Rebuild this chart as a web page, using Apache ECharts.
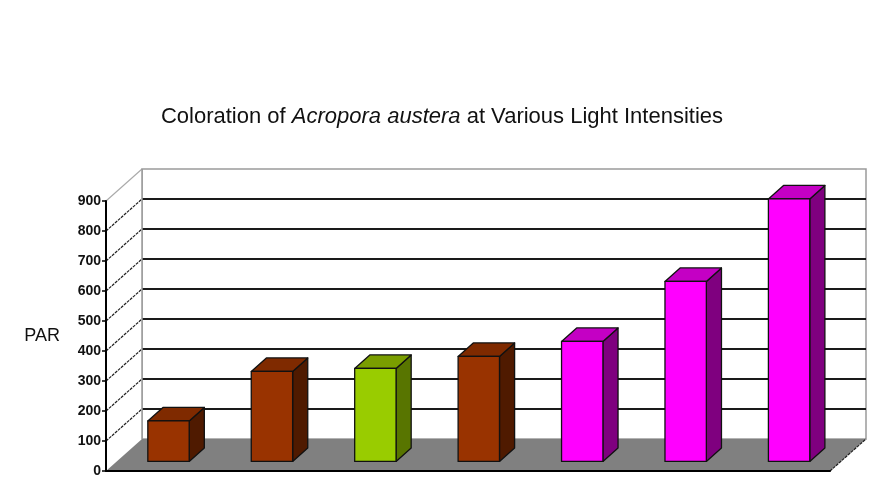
<!DOCTYPE html>
<html><head><meta charset="utf-8">
<script src="https://cdn.jsdelivr.net/npm/echarts@6/dist/echarts.min.js"></script>
<style>html,body{margin:0;padding:0;background:#fff}#c{width:884px;height:499px}</style>
</head><body><div id="c"></div>
<script>
// ---- data ----
const categories = ['1', '2', '3', '4', '5', '6', '7'];
const parValues = [135, 300, 310, 350, 400, 600, 875];
const coloration = ['brown', 'brown', 'green', 'brown', 'pink', 'pink', 'pink'];
const yTickValues = [0, 100, 200, 300, 400, 500, 600, 700, 800, 900];
const titleParts = ['Coloration of ', 'Acropora austera', ' at Various Light Intensities'];
const yAxisName = 'PAR';

// ---- styles ----
const palette = {
  brown: { front: '#993300', top: '#7f2a00', side: '#4f1a00' },
  green: { front: '#99cc00', top: '#7a9e00', side: '#587500' },
  pink:  { front: '#ff00ff', top: '#c400c4', side: '#7f007f' }
};
const DX = 36, DY = -32;   // full depth offset of the 3D box
const F0 = 0.3, BD = 0.42; // bar front plane depth fraction, bar depth fraction
const yMax = yTickValues[yTickValues.length - 1];

const chart = echarts.init(document.getElementById('c'), null, { renderer: 'canvas' });

function renderFrame(params, api) {
  const cs = params.coordSys;
  const x0 = cs.x, x1 = cs.x + cs.width;
  const yv = v => api.coord([0, v])[1];
  const y0 = yv(0), yT = yv(yMax);
  const bx0 = x0 + DX, bx1 = x1 + DX;
  const ch = [];
  ch.push({ type: 'polygon', shape: { points: [[bx0, yT + DY], [bx1, yT + DY], [bx1, y0 + DY], [bx0, y0 + DY]] },
    style: { fill: '#ffffff', stroke: '#9a9a9a', lineWidth: 1.5 } });
  ch.push({ type: 'polygon', shape: { points: [[x0, y0], [x0, yT], [bx0, yT + DY], [bx0, y0 + DY]] },
    style: { fill: '#ffffff', stroke: null } });
  ch.push({ type: 'polygon', shape: { points: [[x0, y0], [x1, y0], [bx1, y0 + DY], [bx0, y0 + DY]] },
    style: { fill: '#808080', stroke: null } });
  yTickValues.forEach(v => {
    if (v === 0) return;
    const y = yv(v);
    if (v < yMax) {
      ch.push({ type: 'line', shape: { x1: bx0, y1: y + DY, x2: bx1, y2: y + DY },
        style: { stroke: '#1a1a1a', lineWidth: 2 } });
      ch.push({ type: 'line', shape: { x1: x0, y1: y, x2: bx0, y2: y + DY },
        style: { stroke: '#222', lineWidth: 1.2, lineDash: [3, 1] } });
    } else {
      ch.push({ type: 'line', shape: { x1: x0, y1: y, x2: bx0, y2: y + DY },
        style: { stroke: '#aaa', lineWidth: 1.2 } });
    }
  });
  ch.push({ type: 'line', shape: { x1: bx0, y1: yT + DY, x2: bx0, y2: y0 + DY },
    style: { stroke: '#9a9a9a', lineWidth: 1.5 } });
  ch.push({ type: 'line', shape: { x1: x1, y1: y0, x2: bx1, y2: y0 + DY },
    style: { stroke: '#222', lineWidth: 1.2, lineDash: [3, 1] } });
  return { type: 'group', children: ch };
}

function renderBar(params, api) {
  const i = api.value(0), v = api.value(1);
  const p0 = api.coord([i, 0]);
  const p1 = api.coord([i, v]);
  const bw = api.size([1, 0])[0] * 0.4;
  const ox = DX * F0, oy = DY * F0, dx = DX * BD, dy = DY * BD;
  const xl = p0[0] - bw / 2 + ox, xr = xl + bw;
  const yb = p0[1] + oy, yt = p1[1] + oy;
  const c = palette[coloration[params.dataIndex]];
  const st = { stroke: '#111', lineWidth: 1.3, lineJoin: 'round' };
  return { type: 'group', children: [
    { type: 'polygon', shape: { points: [[xr, yt], [xr + dx, yt + dy], [xr + dx, yb + dy], [xr, yb]] },
      style: Object.assign({ fill: c.side }, st) },
    { type: 'polygon', shape: { points: [[xl, yt], [xr, yt], [xr + dx, yt + dy], [xl + dx, yt + dy]] },
      style: Object.assign({ fill: c.top }, st) },
    { type: 'rect', shape: { x: xl, y: yt, width: bw, height: yb - yt },
      style: Object.assign({ fill: c.front }, st) }
  ] };
}

const option = {
  backgroundColor: '#ffffff',
  animation: false,
  textStyle: { fontFamily: 'Liberation Sans' },
  title: {
    text: '{n|' + titleParts[0] + '}{i|' + titleParts[1] + '}{n|' + titleParts[2] + '}',
    left: 'center', top: 101,
    textStyle: {
      fontWeight: 'normal',
      rich: {
        n: { fontFamily: 'Liberation Sans', fontSize: 22, fontWeight: 'normal', color: '#111' },
        i: { fontFamily: 'Liberation Sans', fontSize: 22, fontWeight: 'normal', color: '#111', fontStyle: 'italic' }
      }
    }
  },
  grid: { left: 106, right: 54, top: 201, bottom: 28, containLabel: false },
  xAxis: {
    type: 'category', data: categories,
    axisLine: { show: true, lineStyle: { color: '#000', width: 2 } },
    axisTick: { show: false }, axisLabel: { show: false }, splitLine: { show: false }
  },
  yAxis: {
    type: 'value', min: 0, max: yMax, interval: 100,
    name: yAxisName, nameLocation: 'middle', nameRotate: 0, nameGap: 46,
    nameTextStyle: { fontFamily: 'Liberation Sans', fontSize: 18, color: '#111', padding: [6, 0, 0, 0] },
    axisLine: { show: true, lineStyle: { color: '#000', width: 2 } },
    axisTick: { show: true, inside: false, length: 4, lineStyle: { color: '#000', width: 1.5 } },
    axisLabel: { margin: 5, fontFamily: 'Liberation Sans', fontSize: 14, fontWeight: 'bold', color: '#111',
      formatter: v => String(v) },
    splitLine: { show: false }
  },
  series: [
    { type: 'custom', z: -1, renderItem: renderFrame, data: [[0, 0]], silent: true },
    { type: 'custom', z: 3, renderItem: renderBar,
      encode: { x: 0, y: 1 },
      data: parValues.map((v, i) => [i, v]) }
  ]
};
chart.setOption(option);
</script>
</body></html>
